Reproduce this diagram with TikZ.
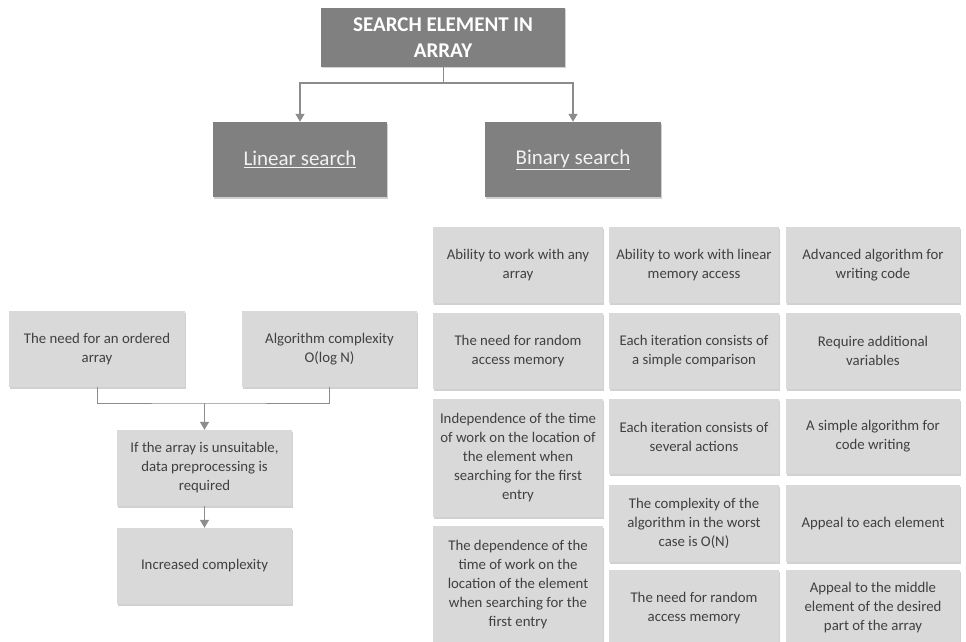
\documentclass[tikz,border=0pt]{standalone}
\usepackage{fontspec}
\setmainfont{Carlito}
\usetikzlibrary{shadows,arrows.meta}
\definecolor{darkbox}{HTML}{808080}
\definecolor{lightbox}{HTML}{D9D9D9}
\definecolor{txtc}{HTML}{404040}
\definecolor{connc}{HTML}{8C8C8C}
\begin{document}
\begin{tikzpicture}[x=1pt,y=-1pt,
  shadowed/.style={drop shadow={shadow xshift=1pt,shadow yshift=-1.5pt,opacity=0.18,fill=black}},
  headbox/.style={shadowed,fill=darkbox,draw=none,inner sep=0pt,align=center,text=white,
    font=\fontsize{21}{26}\selectfont\bfseries},
  branchbox/.style={shadowed,fill=darkbox,draw=none,inner sep=0pt,align=center,text=black!5,
    font=\fontsize{21}{26}\selectfont},
  cell/.style={shadowed,fill=lightbox,draw=none,inner sep=0pt,align=center,text=txtc,
    font=\fontsize{14.8}{19}\selectfont},
  conn/.style={draw=connc,line width=0.9pt},
  arr/.style={draw=connc,line width=1.3pt,-{Triangle[width=9pt,length=8pt]}}
]
\useasboundingbox (0,0) rectangle (966,642);

% top level
\node[headbox,minimum width=244pt,minimum height=59pt] (T) at (443,37.5) {SEARCH ELEMENT IN\\ARRAY};
\node[branchbox,minimum width=174pt,minimum height=75pt] (Lin) at (300,159.5) {\underline{Linear search}};
\node[branchbox,minimum width=176pt,minimum height=75pt] (Bin) at (573,159.5) {\underline{Binary search}};
\coordinate (j0) at (443,83);
\draw[conn] (T.south) -- (j0);
\draw[arr] (j0) -| (Lin.north);
\draw[arr] (j0) -| (Bin.north);

% left flow
\node[cell,minimum width=176pt,minimum height=76pt] (L1) at (97,349) {The need for an ordered\\array};
\node[cell,minimum width=175pt,minimum height=76pt] (L2) at (329.5,349) {Algorithm complexity\\O(log N)};
\node[cell,minimum width=175pt,minimum height=76pt] (L3) at (204.5,468) {If the array is unsuitable,\\data preprocessing is\\required};
\node[cell,minimum width=175pt,minimum height=76pt] (L4) at (204.5,566) {Increased complexity};
\coordinate (j1) at (204.5,403);
\draw[conn] (L1.south) |- (j1) -| (L2.south);
\draw[arr] (j1) -- (L3.north);
\draw[arr] (L3.south) -- (L4.north);

% grid column 1
\node[cell,minimum width=170pt,minimum height=76pt] (a1) at (518,265) {Ability to work with any\\array};
\node[cell,minimum width=170pt,minimum height=76pt] (a2) at (518,351) {The need for random\\access memory};
\node[cell,minimum width=170pt,minimum height=118pt] (a3) at (518,458) {Independence of the time\\of work on the location of\\the element when\\searching for the first\\entry};
\node[cell,minimum width=170pt,minimum height=118pt] (a4) at (518,585) {The dependence of the\\time of work on the\\location of the element\\when searching for the\\first entry};

% grid column 2
\node[cell,minimum width=170pt,minimum height=76pt] (b1) at (694,265) {Ability to work with linear\\memory access};
\node[cell,minimum width=170pt,minimum height=76pt] (b2) at (694,351) {Each iteration consists of\\a simple comparison};
\node[cell,minimum width=170pt,minimum height=75pt] (b3) at (694,436.5) {Each iteration consists of\\several actions};
\node[cell,minimum width=170pt,minimum height=77pt] (b4) at (694,523.5) {The complexity of the\\algorithm in the worst\\case is O(N)};
\node[cell,minimum width=170pt,minimum height=76pt] (b5) at (694,608) {The need for random\\access memory};

% grid column 3
\node[cell,minimum width=174pt,minimum height=76pt] (c1) at (873,265) {Advanced algorithm for\\writing code};
\node[cell,minimum width=174pt,minimum height=76pt] (c2) at (873,351) {Require additional\\variables};
\node[cell,minimum width=174pt,minimum height=75pt] (c3) at (873,436.5) {A simple algorithm for\\code writing};
\node[cell,minimum width=174pt,minimum height=77pt] (c4) at (873,523.5) {Appeal to each element};
\node[cell,minimum width=174pt,minimum height=76pt] (c5) at (873,608) {Appeal to the middle\\element of the desired\\part of the array};
\end{tikzpicture}
\end{document}
